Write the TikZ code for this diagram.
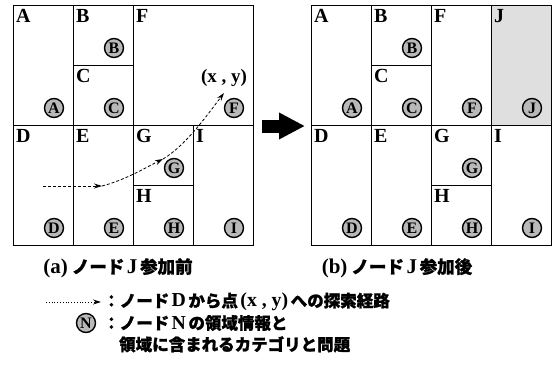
\documentclass[tikz,border=0pt]{standalone}
\usepackage{fontspec}
\setmainfont{Liberation Serif}
\newfontfamily\jpfont{Noto Sans CJK JP}[BoldFeatures={FakeBold=1.2}]
\newfontfamily\latfont{Liberation Serif}[Scale=1.2]
\usetikzlibrary{arrows.meta, positioning, calc}
\newcommand{\romn}[1]{\hspace{0.15em}{\latfont #1}\hspace{0.15em}}
\tikzstyle{cell} = [rectangle, draw=black, line width=0.9pt, inner sep=0pt, outer sep=0pt, minimum width=60pt, minimum height=120pt]
\tikzstyle{half} = [minimum height=60pt]
\tikzstyle{tag} = [anchor=north west, inner sep=3pt, yshift=-1.5pt, font=\bfseries\fontsize{20}{20}\selectfont]
\tikzstyle{region} = [circle, draw=black, line width=1.4pt, fill=gray!55, minimum size=19pt, inner sep=0pt, font=\bfseries\fontsize{16}{16}\selectfont]
\tikzstyle{route} = [densely dashed, line width=0.8pt, -{Stealth[length=8pt, width=5pt]}]
\tikzstyle{caption} = [font=\jpfont\bfseries\fontsize{17.5}{17.5}\selectfont]
\tikzstyle{legend} = [anchor=west, inner sep=0pt, font=\jpfont\bfseries\fontsize{16.5}{16.5}\selectfont]

\begin{document}
\begin{tikzpicture}[x=1pt, y=-1pt]
\useasboundingbox (0,0) rectangle (555,373);

% (a) before J joins
\node (preA) [cell] at (43,65) {};
\node (preB) [cell, half] at (103,35) {};
\node (preC) [cell, half] at (103,95) {};
\node (preF) [cell, minimum width=120pt] at (193,65) {};
\node (preD) [cell] at (43,185) {};
\node (preE) [cell] at (103,185) {};
\node (preG) [cell, half] at (163,155) {};
\node (preH) [cell, half] at (163,215) {};
\node (preI) [cell] at (223,185) {};
\foreach \c in {A,B,C,D,E,F,G,H,I} {
  \node [tag] at (pre\c.north west) {\c};
  \node (pre\c info) [region] at ($(pre\c.south east)+(-19,-17)$) {\c};
}
\node (target) [font=\bfseries\fontsize{19}{19}\selectfont] at (224,78) {(x , y)};

% search route from D
\coordinate (start) at (43,186);
\coordinate (hop1) at (102,186);
\coordinate (hop2) at (163,159);
\coordinate (goal) at (224,93);
\draw [route] (start) -- (hop1);
\draw [route] (hop1) .. controls (125,180) and (145,168) .. (hop2);
\draw [route] (hop2) .. controls (185,146) and (205,118) .. (goal);

% transition
\coordinate (gapfrom) at (262,126);
\coordinate (gapto) at (305,126);
\draw [line width=13pt, -{Triangle[length=26pt, width=25pt]}] (gapfrom) -- (gapto);

% (b) after J joins
\node (postA) [cell] at (341,65) {};
\node (postB) [cell, half] at (401,35) {};
\node (postC) [cell, half] at (401,95) {};
\node (postF) [cell] at (461,65) {};
\node (postJ) [cell, fill=gray!25] at (521,65) {};
\node (postD) [cell] at (341,185) {};
\node (postE) [cell] at (401,185) {};
\node (postG) [cell, half] at (461,155) {};
\node (postH) [cell, half] at (461,215) {};
\node (postI) [cell] at (521,185) {};
\foreach \c in {A,B,C,D,E,F,G,H,I,J} {
  \node [tag] at (post\c.north west) {\c};
  \node (post\c info) [region] at ($(post\c.south east)+(-19,-17)$) {\c};
}

% captions
\node (capA) [caption] at (118,268) {{\latfont (a)} ノード\romn{J}参加前};
\node (capB) [caption] at (397,268) {{\latfont (b)} ノード\romn{J}参加後};

% legend
\coordinate (keyfrom) at (46,302);
\coordinate (keyto) at (101,302);
\draw [dotted, line width=0.8pt, -{Stealth[length=8pt, width=5pt]}] (keyfrom) -- (keyto);
\node (keyroute) [legend] at (103,302) {：ノード\romn{D}から点\romn{(x , y)}への探索経路};
\node (keyinfo) [region] at (86,323) {N};
\node (keyarea) [legend] at (103,323) {：ノード\romn{N}の領域情報と};
\node (keyarea2) [legend, below=5pt of keyarea.south west, anchor=north west, xshift=16pt] {領域に含まれるカテゴリと問題};

\end{tikzpicture}
\end{document}
